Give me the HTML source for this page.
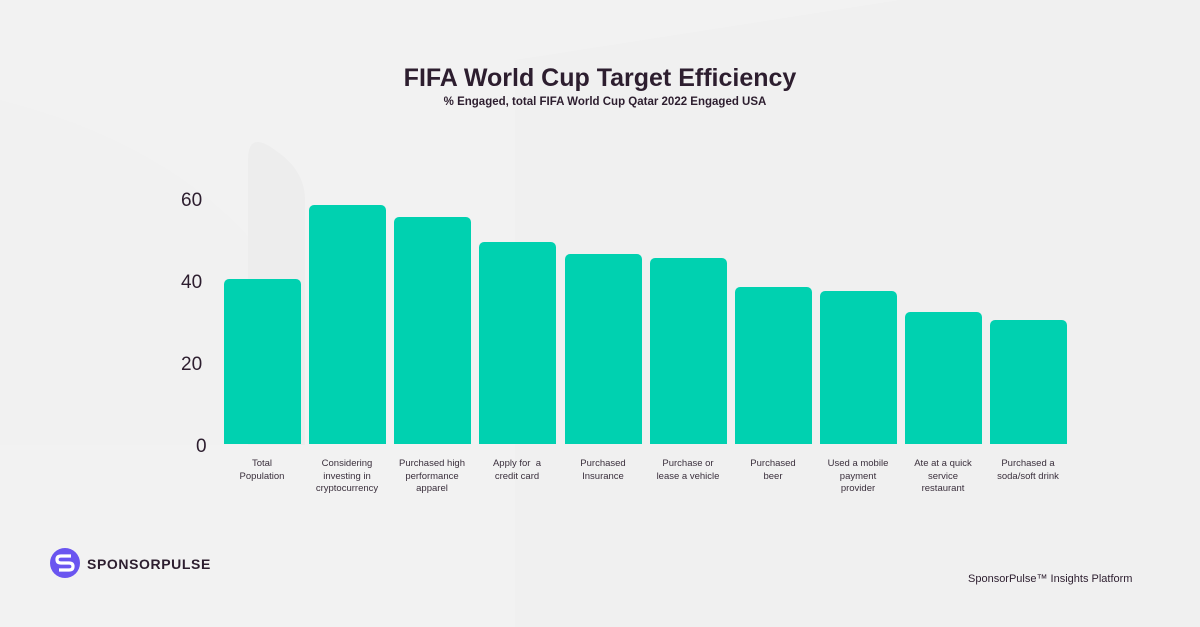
<!DOCTYPE html>
<html><head><meta charset="utf-8"><style>
body{margin:0;width:1200px;height:627px;background:#f2f2f2;position:relative;overflow:hidden;font-family:"Liberation Sans",sans-serif;color:#2d1e2f}
.bg{position:absolute}
.bar{position:absolute;background:#00d1b0;width:77px;border-radius:5px 5px 0 0;bottom:183px}
.lab{position:absolute;top:458px;width:100px;text-align:center;font-size:9.5px;line-height:12.5px;color:#3a2f3c}
.y{position:absolute;left:181px;font-size:19px;color:#2d1e2f;width:30px;text-align:left}
</style></head><body>
<svg class="bg" width="1200" height="627" style="left:0;top:0">
<path d="M515 60 L900 0 L1200 0 L1200 627 L515 627 Z" fill="#f0f0f0"/>
<path d="M0 100 Q200 150 290 290 L290 445 L0 445 Z" fill="#f1f1f1"/>
<path d="M248 160 Q248 130 275 150 Q305 170 305 200 L305 445 L248 445 Z" fill="#ededed"/>
</svg>
<div style="position:absolute;top:64px;width:1200px;text-align:center;font-size:25px;font-weight:bold">FIFA World Cup Target Efficiency</div>
<div style="position:absolute;top:96px;left:0;width:1200px;text-align:center;font-size:11.5px;font-weight:bold;padding-left:10px;box-sizing:border-box">% Engaged, total FIFA World Cup Qatar 2022 Engaged USA</div>
<div class="y" style="top:190px">60</div>
<div class="y" style="top:272px">40</div>
<div class="y" style="top:354px">20</div>
<div class="y" style="top:436px;left:196px">0</div>
<div class="bar" style="left:224px;height:165px"></div>
<div class="bar" style="left:309px;height:239px"></div>
<div class="bar" style="left:394px;height:227px"></div>
<div class="bar" style="left:479px;height:202px"></div>
<div class="bar" style="left:565px;height:190px"></div>
<div class="bar" style="left:650px;height:186px"></div>
<div class="bar" style="left:735px;height:157px"></div>
<div class="bar" style="left:820px;height:153px"></div>
<div class="bar" style="left:905px;height:132px"></div>
<div class="bar" style="left:990px;height:124px"></div>
<div class="lab" style="left:212px">Total<br>Population</div>
<div class="lab" style="left:297px">Considering<br>investing in<br>cryptocurrency</div>
<div class="lab" style="left:382px">Purchased high<br>performance<br>apparel</div>
<div class="lab" style="left:467px">Apply for &nbsp;a<br>credit card</div>
<div class="lab" style="left:553px">Purchased<br>Insurance</div>
<div class="lab" style="left:638px">Purchase or<br>lease a vehicle</div>
<div class="lab" style="left:723px">Purchased<br>beer</div>
<div class="lab" style="left:808px">Used a mobile<br>payment<br>provider</div>
<div class="lab" style="left:893px">Ate at a quick<br>service<br>restaurant</div>
<div class="lab" style="left:978px">Purchased a<br>soda/soft drink</div>
<svg style="position:absolute;left:50px;top:548px" width="30" height="30" viewBox="0 0 30 30">
<circle cx="15" cy="15" r="15" fill="#6a55f0"/>
<path d="M21 8 H11 Q7 8 7 11.5 Q7 15 11 15 H19 Q23 15 23 18.5 Q23 22 19 22 H9" stroke="#fff" stroke-width="3.2" fill="none"/>
</svg>
<div style="position:absolute;left:87px;top:556px;font-size:14px;font-weight:bold;letter-spacing:0.6px;color:#2d1e2f">SPONSORPULSE</div>
<div style="position:absolute;left:968px;top:573px;font-size:11px;color:#2d1e2f">SponsorPulse™ Insights Platform</div>
</body></html>
